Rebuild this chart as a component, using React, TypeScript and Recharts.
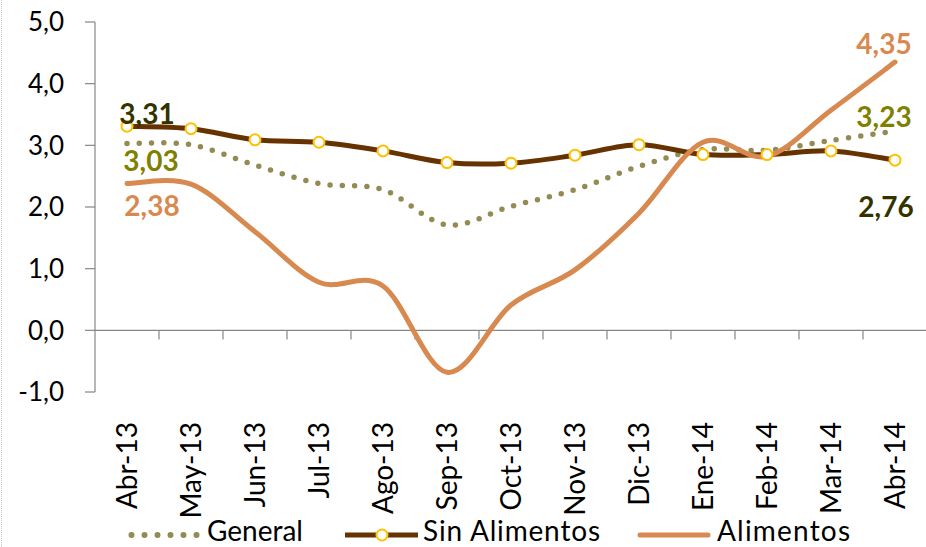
import React from 'react';
import {
  LineChart,
  Line,
  XAxis,
  YAxis,
  ReferenceLine,
  LabelList,
  Legend,
} from 'recharts';

// ---- data ----
const months = ['Abr-13', 'May-13', 'Jun-13', 'Jul-13', 'Ago-13', 'Sep-13', 'Oct-13', 'Nov-13', 'Dic-13', 'Ene-14', 'Feb-14', 'Mar-14', 'Abr-14'];
const general = [3.03, 3.01, 2.68, 2.38, 2.28, 1.71, 2.01, 2.28, 2.66, 2.93, 2.92, 3.08, 3.23];
const sinAlimentos = [3.31, 3.27, 3.09, 3.05, 2.91, 2.72, 2.71, 2.84, 3.01, 2.85, 2.85, 2.91, 2.76];
const alimentos = [2.38, 2.37, 1.6, 0.78, 0.72, -0.68, 0.41, 0.98, 1.9, 3.05, 2.82, 3.57, 4.35];
const yTicks = [-1, 0, 1, 2, 3, 4, 5];
const seriesNames = ['General', 'Sin Alimentos', 'Alimentos'];

const data = months.map((m, i) => ({
  idx: i,
  month: m,
  general: general[i],
  sinAlimentos: sinAlimentos[i],
  alimentos: alimentos[i],
}));
const xTicks = months.map((_, i) => i);
const boundaries = months.slice(1).map((_, i) => i + 0.5);

// ---- styles ----
const FONT = 'Lato, "Open Sans", sans-serif';
const AXIS_GRAY = '#868686';
const C_GENERAL = '#948A54';
const C_SIN = '#663300';
const C_ALI = '#D8894F';
const L_GENERAL = '#7F7F00';
const L_SIN = '#333300';
const L_ALI = '#D8894F';

const fmt = (v: number, d: number) => v.toFixed(d).replace('.', ',');

// Excel-like smoothing (Catmull-Rom)
const smoothCurve: any = (context: any) => {
  let pts: number[][] = [];
  return {
    areaStart() {},
    areaEnd() {},
    lineStart() {
      pts = [];
    },
    point(x: number, y: number) {
      pts.push([+x, +y]);
    },
    lineEnd() {
      if (!pts.length) return;
      context.moveTo(pts[0][0], pts[0][1]);
      for (let i = 0; i < pts.length - 1; i++) {
        const p0 = pts[i - 1] || pts[i];
        const p1 = pts[i];
        const p2 = pts[i + 1];
        const p3 = pts[i + 2] || pts[i + 1];
        context.bezierCurveTo(
          p1[0] + (p2[0] - p0[0]) / 6,
          p1[1] + (p2[1] - p0[1]) / 6,
          p2[0] - (p3[0] - p1[0]) / 6,
          p2[1] - (p3[1] - p1[1]) / 6,
          p2[0],
          p2[1]
        );
      }
    },
  };
};

const XTick = (props: any) => {
  const { x, y, payload } = props;
  return (
    <text
      transform={`translate(${x},${y}) rotate(-90)`}
      textAnchor="end"
      dy="0.36em"
      fontSize={28}
      fontFamily={FONT}
      fill="#000"
    >
      {months[payload.value]}
    </text>
  );
};

const makeLabel = (color: string, first: [number, number], last: [number, number]) => (p: any) => {
  const { x, y, value, index } = p;
  let off: [number, number] | null = null;
  if (index === 0) off = first;
  else if (index === months.length - 1) off = last;
  if (!off) return null;
  return (
    <text
      x={x + off[0]}
      y={y + off[1]}
      textAnchor="middle"
      dominantBaseline="central"
      fontSize={28}
      fontWeight="bold"
      fontFamily={FONT}
      fill={color}
    >
      {fmt(Number(value), 2)}
    </text>
  );
};

const renderLegend = () => (
  <svg width={926} height={40} style={{ display: 'block' }}>
    <line x1={131.5} y1={28} x2={197} y2={28} stroke={C_GENERAL} strokeWidth={6} strokeDasharray="0 13" strokeLinecap="round" />
    <text x={207} y={34} fontSize={28} fontFamily={FONT} fill="#000">{seriesNames[0]}</text>
    <line x1={345} y1={28} x2={418} y2={28} stroke={C_SIN} strokeWidth={5} />
    <circle cx={382} cy={28} r={5.5} fill="#fff" stroke="#FFC000" strokeWidth={2} />
    <text x={423} y={34} fontSize={28} fontFamily={FONT} fill="#000" textLength={177} lengthAdjust="spacing">{seriesNames[1]}</text>
    <line x1={640} y1={28} x2={708} y2={28} stroke={C_ALI} strokeWidth={5} strokeLinecap="round" />
    <text x={717} y={34} fontSize={28} fontFamily={FONT} fill="#000" textLength={133} lengthAdjust="spacing">{seriesNames[2]}</text>
  </svg>
);

export default function App() {
  return (
    <div style={{ position: 'absolute', left: 0, top: 0, width: 926, height: 547, overflow: 'hidden', background: '#fff' }}>
      <div style={{ position: 'absolute', left: 1, top: 0, width: 0, height: 547, borderLeft: '1px dotted #c8c8c8' }} />
      <LineChart
        width={930}
        height={547}
        data={data}
        margin={{ top: 22, right: 3, left: 0, bottom: 0 }}
      >
        <XAxis
          dataKey="idx"
          type="number"
          domain={[-0.5, 12.5]}
          ticks={xTicks}
          interval={0}
          allowDataOverflow
          axisLine={false}
          tickLine={false}
          tickSize={0}
          tickMargin={30}
          height={115}
          tick={<XTick />}
        />
        <YAxis
          type="number"
          domain={[-1, 5]}
          ticks={yTicks}
          interval={0}
          width={95}
          axisLine={{ stroke: AXIS_GRAY, strokeWidth: 1.2 }}
          tickLine={{ stroke: AXIS_GRAY, strokeWidth: 1.2 }}
          tickSize={10}
          tickMargin={21}
          tick={{ fontSize: 26, fontFamily: FONT, fill: '#000' }}
          tickFormatter={(v: number) => fmt(v, 1)}
        />
        <ReferenceLine y={0} stroke={AXIS_GRAY} strokeWidth={1.2} />
        {boundaries.map((b) => (
          <ReferenceLine
            key={b}
            segment={[{ x: b, y: 0 }, { x: b, y: -0.15 }]}
            stroke={AXIS_GRAY}
            strokeWidth={1.2}
          />
        ))}
        <Legend verticalAlign="bottom" height={40} content={renderLegend} wrapperStyle={{ left: 0, bottom: 0, width: 926 }} />
        <Line
          dataKey="general"
          name={seriesNames[0]}
          type={smoothCurve}
          stroke={C_GENERAL}
          strokeWidth={5.5}
          strokeDasharray="0 12.3"
          strokeLinecap="round"
          dot={false}
          activeDot={false}
          isAnimationActive={false}
        >
          <LabelList dataKey="general" content={makeLabel(L_GENERAL, [24, 17], [-11, -15])} />
        </Line>
        <Line
          dataKey="sinAlimentos"
          name={seriesNames[1]}
          type={smoothCurve}
          stroke={C_SIN}
          strokeWidth={5}
          dot={{ r: 5.5, fill: '#fff', stroke: '#FFC000', strokeWidth: 2 }}
          activeDot={false}
          isAnimationActive={false}
        >
          <LabelList dataKey="sinAlimentos" content={makeLabel(L_SIN, [20, -13], [-9, 46])} />
        </Line>
        <Line
          dataKey="alimentos"
          name={seriesNames[2]}
          type={smoothCurve}
          stroke={C_ALI}
          strokeWidth={5}
          strokeLinecap="round"
          dot={false}
          activeDot={false}
          isAnimationActive={false}
        >
          <LabelList dataKey="alimentos" content={makeLabel(L_ALI, [25, 21], [-11, -19])} />
        </Line>
      </LineChart>
    </div>
  );
}
